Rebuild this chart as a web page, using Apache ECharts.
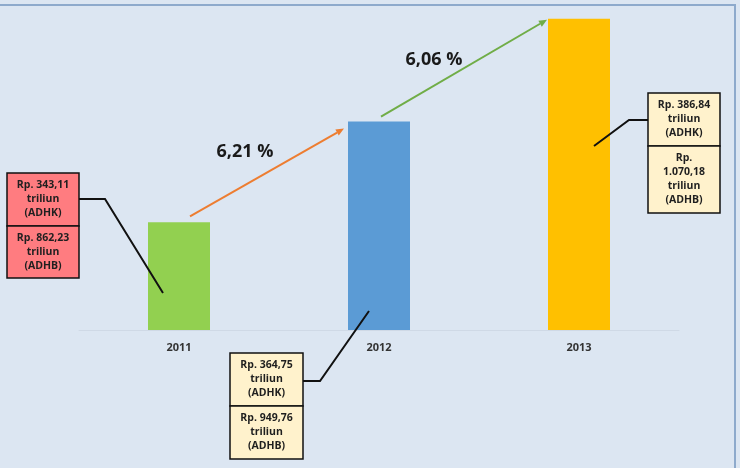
<!DOCTYPE html>
<html>
<head>
<meta charset="utf-8">
<script src="https://cdn.jsdelivr.net/npm/echarts@6/dist/echarts.min.js"></script>
<style>
  html, body { margin: 0; padding: 0; background: #dce6f2; }
  #chart { width: 740px; height: 468px; }
</style>
</head>
<body>
<div id="chart"></div>
<script>
// data
const years = ['2011', '2012', '2013']
const adhk = [343.11, 364.75, 386.84]       // triliun, harga konstan
const adhb = [862.23, 949.76, 1070.18]      // triliun, harga berlaku
const growth = [6.21, 6.06]                 // % pertumbuhan
const barColors = ['#92d050', '#5b9bd5', '#ffc000']
const boxColors = ['#ff7c80', '#fff2cc', '#fff2cc']
const arrowColors = ['#ed7d31', '#70ad47']

// format angka gaya Indonesia: 1.070,18
function fmt(v) {
  const parts = v.toFixed(2).split('.')
  const int = parts[0].replace(/\B(?=(\d{3})+(?!\d))/g, '.')
  return int + ',' + parts[1]
}

const chart = echarts.init(document.getElementById('chart'))

const option = {
  backgroundColor: '#dce6f2',
  animation: false,
  grid: { left: 79, right: 61, top: 4, bottom: 138 },
  xAxis: {
    type: 'category',
    data: years,
    axisLine: { lineStyle: { color: '#cfd9e6', width: 1 } },
    axisTick: { show: false },
    axisLabel: {
      margin: 12,
      color: '#333',
      fontWeight: 'bold',
      fontSize: 11,
      fontFamily: 'Open Sans'
    }
  },
  yAxis: {
    type: 'value',
    min: 320,
    max: 390,
    show: false,
    splitLine: { show: false }
  },
  series: [{
    type: 'bar',
    barWidth: 62,
    data: adhk.map((v, i) => ({ value: v, itemStyle: { color: barColors[i] } }))
  }]
}

chart.setOption(option)

// annotations placed from the bar positions
const px = adhk.map((v, i) => chart.convertToPixel({ seriesIndex: 0 }, [i, v]))

const graphics = []

// frame lines
graphics.push({ type: 'line', z: 100, shape: { x1: 0, y1: 5, x2: 736, y2: 5 }, style: { stroke: '#8eaacc', lineWidth: 2 } })
graphics.push({ type: 'line', z: 100, shape: { x1: 735, y1: 5, x2: 735, y2: 468 }, style: { stroke: '#8eaacc', lineWidth: 2 } })

// growth arrows
const arrows = [
  { from: [px[0][0] + 11, px[0][1] - 6], to: [px[1][0] - 35, px[1][1] + 7] },
  { from: [px[1][0] + 2, px[1][1] - 5], to: [px[2][0] - 32, px[2][1] + 1] }
]
arrows.forEach((a, i) => {
  const [x1, y1] = a.from
  const [x2, y2] = a.to
  const ang = Math.atan2(y2 - y1, x2 - x1)
  const L = 8, W = 3.5
  const bx = x2 - L * Math.cos(ang), by = y2 - L * Math.sin(ang)
  graphics.push({
    type: 'line', z: 100,
    shape: { x1, y1, x2: bx, y2: by },
    style: { stroke: arrowColors[i], lineWidth: 2 }
  })
  graphics.push({
    type: 'polygon', z: 100,
    shape: {
      points: [
        [x2, y2],
        [bx + W * Math.sin(ang), by - W * Math.cos(ang)],
        [bx - W * Math.sin(ang), by + W * Math.cos(ang)]
      ]
    },
    style: { fill: arrowColors[i] }
  })
})

// growth labels
const growthPos = [[245, 152], [434, 60]]
growth.forEach((g, i) => {
  graphics.push({
    type: 'text', z: 100,
    x: growthPos[i][0],
    y: growthPos[i][1],
    style: {
      text: g.toFixed(2).replace('.', ',') + ' %',
      fill: '#1a1a1a',
      font: 'bold 18px "Open Sans"',
      align: 'center',
      verticalAlign: 'middle'
    }
  })
})

// callout boxes
const boxes = [
  { x: 7, y: 173, w: 72, h1: 53, h2: 52, split: false, lineY: 199, knee: 105, end: [px[0][0] - 16, 293] },
  { x: 230, y: 353, w: 73, h1: 53, h2: 53, split: false, lineY: 381, knee: 320, end: [px[1][0] - 10, 311] },
  { x: 648, y: 93, w: 72, h1: 53, h2: 67, split: true, lineY: 120, knee: 629, end: [px[2][0] + 15, 146] }
]
boxes.forEach((b, i) => {
  // leader line
  const sx = b.knee > b.x ? b.x + b.w : b.x
  graphics.push({
    type: 'polyline', z: 110,
    shape: { points: [[sx, b.lineY], [b.knee, b.lineY], b.end] },
    style: { stroke: '#111', lineWidth: 2, fill: null }
  })
  const t1 = 'Rp. ' + fmt(adhk[i]) + '\ntriliun\n(ADHK)'
  const t2 = b.split
    ? 'Rp.\n' + fmt(adhb[i]) + '\ntriliun\n(ADHB)'
    : 'Rp. ' + fmt(adhb[i]) + '\ntriliun\n(ADHB)'
  ;[[b.y, b.h1, t1], [b.y + b.h1, b.h2, t2]].forEach(([y, h, t]) => {
    graphics.push({
      type: 'rect', z: 120,
      shape: { x: b.x, y, width: b.w, height: h },
      style: { fill: boxColors[i], stroke: '#111', lineWidth: 1.5 }
    })
    graphics.push({
      type: 'text', z: 121,
      x: b.x + b.w / 2,
      y: y + h / 2,
      style: {
        text: t,
        fill: '#1f1f1f',
        font: 'bold 10.5px "Open Sans"',
        lineHeight: 14,
        align: 'center',
        verticalAlign: 'middle'
      }
    })
  })
})

chart.setOption({ graphic: graphics })
</script>
</body>
</html>
